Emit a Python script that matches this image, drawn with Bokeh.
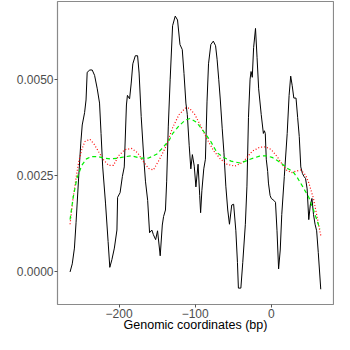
from bokeh.plotting import figure
from bokeh.models import FixedTicker, Range1d, CustomJSTickFormatter
from bokeh.embed import file_html
from bokeh.resources import INLINE

# Black: observed signal
obs_x = [-264.5, -261.6, -258.75, -256.6, -253.25, -250.4, -248.5, -245.4, -243.5, -242, -238.5, -235.4,
         -232.25, -228.75, -225.75, -223.75, -221.6, -217.9, -214.5, -212.25, -209.5, -206.25, -202.9, -202,
         -198.75, -195.75, -193.25, -190.4, -189.1, -186.25, -184.1, -182, -178.75, -175.75, -173.75, -171,
         -167.5, -165.4, -162.5, -160, -157, -155, -152, -149.5, -146, -143.25, -141.6, -139.1, -137.5,
         -135.4, -132.9, -129.75, -126.25, -123.25, -120, -117, -114.75, -112.25, -110.4, -107.9, -105.75,
         -103.75, -101.25, -99.1, -96.25, -94.1, -92.9, -91.25, -88.75, -86.6, -84.5, -82.5, -79.5, -76.25,
         -73.25, -71.25, -69.1, -67, -64.5, -62.25, -59.75, -57.25, -55, -52, -49.5, -46.6, -44.5, -43.25,
         -40, -37.5, -34.1, -32, -30, -27.9, -26.6, -25, -23.25, -20.75, -18.75, -16.6, -13.25, -10.4, -9.1,
         -7.9, -6.6, -4.75, -3.75, -1.6, 0, 3.4, 5.5, 7.5, 9.6, 11.75, 13.75, 17.1, 20.9, 23.4, 25.5, 27.5,
         29.6, 32.5, 34.6, 36.75, 38.75, 40.9, 43, 45, 47.1, 49.25, 51.25, 53.4, 55.5, 57.5, 59.6, 61.75, 65]
obs_y = [0.0, 0.00021, 0.00062, 0.00129, 0.00244, 0.00335, 0.00382, 0.00414, 0.00447, 0.00519, 0.00525,
         0.00525, 0.00511, 0.00476, 0.00439, 0.0036, 0.00273, 0.00179, 0.00079, 0.00012, 0.00032, 0.00062,
         0.00109, 0.00194, 0.00206, 0.00248, 0.00273, 0.00434, 0.00459, 0.0045, 0.00491, 0.00541, 0.00562,
         0.00562, 0.00517, 0.00404, 0.00293, 0.00236, 0.00186, 0.00102, 0.00109, 0.00097, 0.00084, 0.00107,
         0.00042, 0.00122, 0.00144, 0.00161, 0.00236, 0.00377, 0.00501, 0.0064, 0.00665, 0.00655, 0.00591,
         0.00578, 0.00516, 0.00439, 0.00409, 0.00328, 0.00268, 0.00305, 0.00275, 0.00221, 0.0028, 0.00199,
         0.00154, 0.00211, 0.00268, 0.00293, 0.00442, 0.00541, 0.00591, 0.006, 0.00588, 0.00553, 0.00501,
         0.00447, 0.00372, 0.0031, 0.00223, 0.00161, 0.00124, 0.00174, 0.00176, 0.00107, 0.00025, -0.00042,
         -0.00042, 0.00025, 0.00124, 0.00223, 0.00402, 0.00501, 0.00521, 0.00506, 0.00583, 0.00633, 0.00558,
         0.00476, 0.00409, 0.0036, 0.00367, 0.0036, 0.00293, 0.00261, 0.00231, 0.00199, 0.00191, 0.00186,
         0.00181, 0.00107, 0.00008, 0.00057, 0.00149, 0.00248, 0.0036, 0.00459, 0.00509, 0.00484, 0.00452,
         0.00452, 0.00402, 0.00352, 0.00273, 0.00256, 0.00248, 0.00243, 0.00216, 0.00136, 0.00174, 0.00191,
         0.00149, 0.00124, 0.00107, 0.0005, -0.00045]

# Red dotted curve
red_x = [-264.5, -260.4, -256.6, -253.25, -249.1, -245, -238.5, -232.5, -226.25, -220, -213.75, -207.5,
         -200.75, -192.5, -183.5, -175.75, -167.5, -161.25, -155, -146.6, -138.25, -129.5, -121.25, -112.9,
         -107.9, -100.4, -92, -83.75, -75.4, -67, -58.25, -47.9, -37.5, -25, -15.4, -7.25, 0, 8.4, 15.9, 20,
         26.25, 32.5, 38.75, 45, 49.25, 55.5, 59.6, 65]
red_y = [0.00124, 0.00194, 0.00244, 0.00285, 0.00318, 0.00339, 0.00345, 0.00331, 0.0031, 0.0029, 0.00277,
         0.00277, 0.00302, 0.00318, 0.00321, 0.0031, 0.00285, 0.00269, 0.00265, 0.00294, 0.00327, 0.00376,
         0.00409, 0.00426, 0.00426, 0.00409, 0.00376, 0.00343, 0.00314, 0.00294, 0.0028, 0.00275, 0.00285,
         0.00314, 0.00324, 0.00325, 0.00318, 0.00298, 0.00275, 0.00265, 0.00258, 0.00262, 0.00265, 0.00252,
         0.00232, 0.0019, 0.00149, 0.00095]

# Green dashed curve
grn_x = [-264.5, -260.4, -255.4, -249.1, -242.9, -236.6, -228.25, -220, -211.6, -202.9, -196.6, -184.1,
         -171.6, -161.25, -150.75, -142.5, -134.1, -129.5, -121.25, -112.9, -106.6, -98.25, -90, -79.5,
         -71.25, -62.9, -52.9, -40.4, -27.9, -15.4, -6.6, 0.9, 8.4, 15.9, 22.1, 28.4, 34.6, 40.9, 49.25,
         55.5, 63.75]
grn_y = [0.00136, 0.00194, 0.00244, 0.00277, 0.00294, 0.003, 0.003, 0.00296, 0.00294, 0.00295, 0.00298,
         0.00302, 0.00296, 0.00296, 0.00306, 0.00323, 0.00343, 0.0036, 0.0038, 0.00395, 0.00399, 0.00389,
         0.00368, 0.00339, 0.0031, 0.00298, 0.00288, 0.00283, 0.00293, 0.00301, 0.00302, 0.00298, 0.00289,
         0.00278, 0.00268, 0.00261, 0.00244, 0.00223, 0.00194, 0.00161, 0.00112]

x_ticks = [-200, -100, 0]
y_ticks = [0.0, 0.0025, 0.005]

p = figure(width=334, height=334, output_backend="svg", toolbar_location=None,
           x_range=Range1d(-281, 81.75), y_range=Range1d(-0.000846, 0.00703),
           min_border_left=57, min_border_right=1, min_border_top=1, min_border_bottom=0)

p.line(obs_x, obs_y, line_color="#000000", line_width=1.0)
p.line(red_x, red_y, line_color="#FF0000", line_width=1.2, line_dash="1 2")
p.line(grn_x, grn_y, line_color="#00EE00", line_width=1.2, line_dash="4 3")

p.xgrid.visible = False
p.ygrid.visible = False
p.outline_line_color = "#8A8A8A"
p.outline_line_width = 1.2
p.background_fill_color = "white"
p.border_fill_color = "white"

for ax in (p.xaxis[0], p.yaxis[0]):
    ax.axis_line_color = None
    ax.major_tick_line_color = "#555555"
    ax.major_tick_out = 3
    ax.major_tick_in = 0
    ax.minor_tick_line_color = None
    ax.major_label_text_font = "Liberation Sans"
    ax.major_label_text_font_size = "12px"
    ax.major_label_text_color = "#4D4D4D"
    ax.major_label_standoff = 1

p.xaxis.ticker = FixedTicker(ticks=x_ticks)
p.yaxis.ticker = FixedTicker(ticks=y_ticks)
p.xaxis.formatter = CustomJSTickFormatter(code="return (tick < 0 ? '\\u2212' : '') + Math.abs(tick).toString();")
p.yaxis.formatter = CustomJSTickFormatter(code="return tick.toFixed(4);")

p.xaxis.axis_label = "Genomic coordinates (bp)"
p.xaxis.axis_label_text_font = "Liberation Sans"
p.xaxis.axis_label_text_font_size = "12.5px"
p.xaxis.axis_label_text_font_style = "normal"
p.xaxis.axis_label_text_color = "#000000"
p.xaxis.axis_label_standoff = -3

open("out.html", "w").write(file_html(p, INLINE))
